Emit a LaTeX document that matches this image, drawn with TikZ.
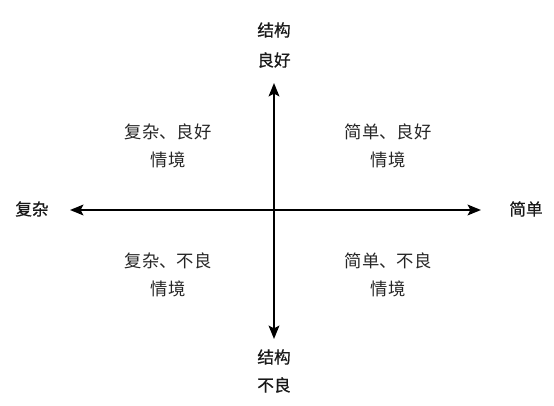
\documentclass[tikz,border=0pt]{standalone}
\usepackage{fontspec}
\newfontfamily\cjk{Noto Sans CJK SC}
\newfontfamily\cjkb{Noto Sans CJK SC}[FakeBold=0.6]
\usetikzlibrary{arrows.meta}
\begin{document}
\begin{tikzpicture}[x=0.75pt,y=-0.75pt,
  axis/.style={line width=1.5pt,-{Stealth[length=10pt,width=8pt,inset=2pt]}},
  axlabel/.style={font=\cjkb\fontsize{12.5pt}{15pt}\selectfont,align=center,inner sep=0pt,text=black!90},
  quad/.style={font=\cjk\fontsize{13pt}{20.5pt}\selectfont,align=center,inner sep=0pt,text=black!85}]
\useasboundingbox (0,0) rectangle (554,406);
\coordinate (c) at (274,210);
\coordinate (L) at (70,210);
\coordinate (R) at (481,210);
\coordinate (T) at (274,83);
\coordinate (B) at (274,339);
\draw[axis] (c) -- (L);
\draw[axis] (c) -- (R);
\draw[axis] (c) -- (T);
\draw[axis] (c) -- (B);
\node[axlabel] (t1) at (274,30) {结构};
\node[axlabel] (t2) at (274,60) {良好};
\node[axlabel] (b1) at (274,357) {结构};
\node[axlabel] (b2) at (274,385) {不良};
\node[axlabel] (l) at (32,209) {复杂};
\node[axlabel] (r) at (526,209) {简单};
\node[quad] (q1) at (168,146) {复杂、良好\\情境};
\node[quad] (q2) at (388,146) {简单、良好\\情境};
\node[quad] (q3) at (168,275) {复杂、不良\\情境};
\node[quad] (q4) at (388,275) {简单、不良\\情境};
\end{tikzpicture}
\end{document}
